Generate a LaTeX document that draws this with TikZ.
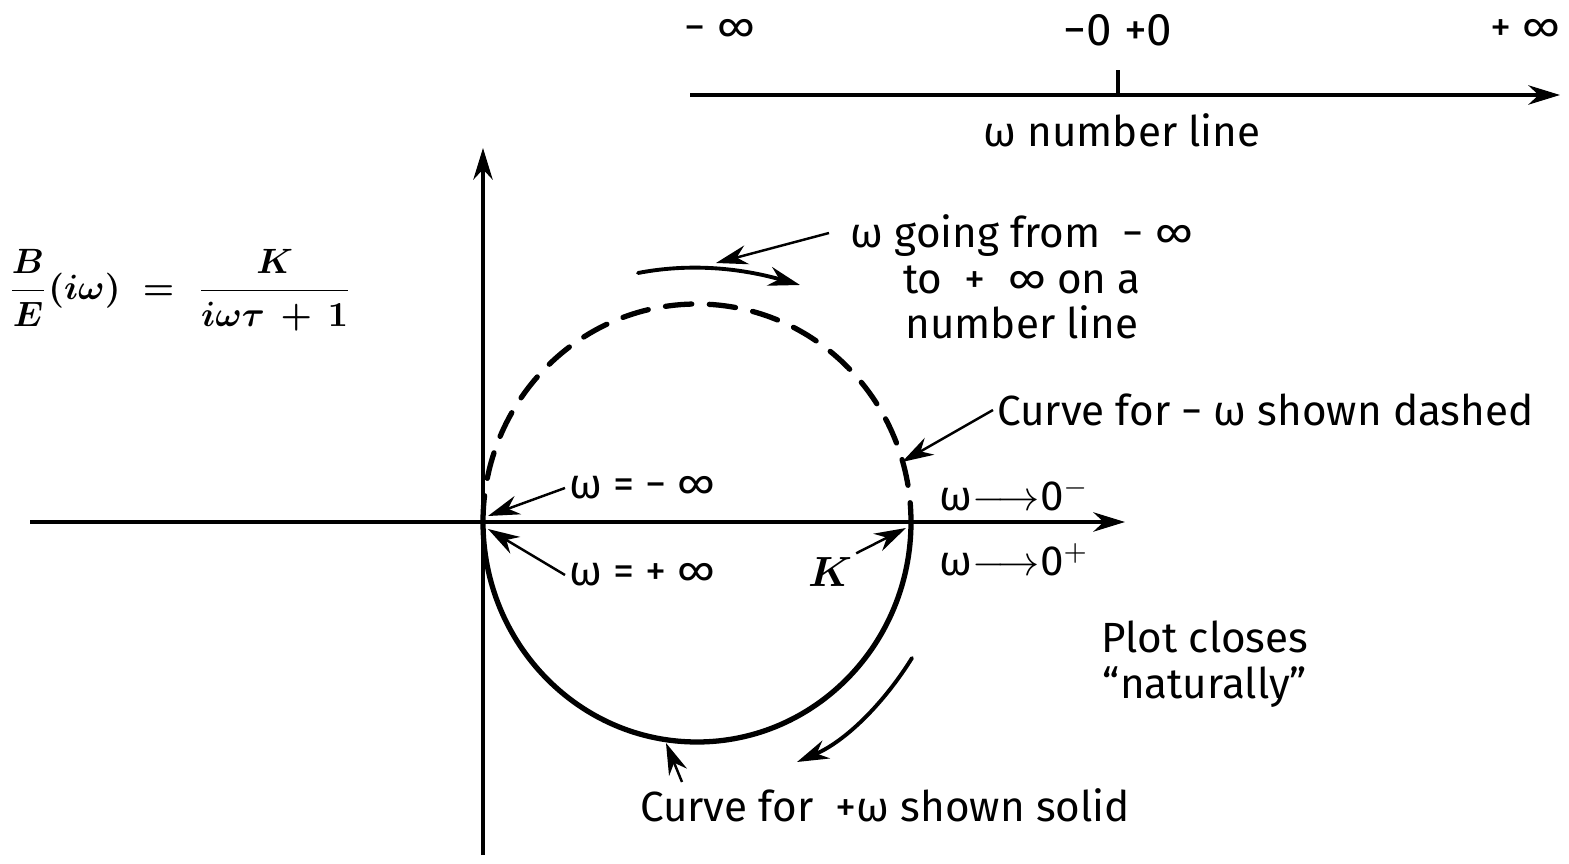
\documentclass[tikz,border=0pt]{standalone}
\usepackage{amsmath}
\usepackage{fontspec}
\setmainfont{Fira Sans}
\usetikzlibrary{arrows.meta,positioning}

\begin{document}
\begin{tikzpicture}[
    x=0.01cm, y=-0.01cm,
    >={Stealth[length=9pt,width=5.5pt]},
    every node/.style={font=\fontsize{12}{13}\selectfont, inner sep=1pt},
    axis/.style={line width=1pt},
    curve/.style={line width=1.5pt, line cap=round},
    pointer/.style={->, line width=0.7pt},
    sweep/.style={->, line width=1.1pt, line cap=round}
]
\useasboundingbox (0,0) rectangle (1569,864);

% Number line
\coordinate (nl_start) at (690,95);
\coordinate (nl_end) at (1560,95);
\coordinate (nl_zero) at (1118,95);
\coordinate (nl_tick) at (1118,70);
\draw[axis,->] (nl_start) -- (nl_end);
\draw[axis] (nl_zero) -- (nl_tick);
\node (minus_inf) at (720,30) {− ∞};
\node (zeros) at (1118,30) {\fontsize{13}{15}\selectfont −0 +0};
\node (plus_inf) at (1525,30) {+ ∞};
\node (nl_label) at (1122,130) {ω number line};

% Axes
\coordinate (O) at (483,522);
\coordinate (K) at (911,522);
\coordinate (x_start) at (30,522);
\coordinate (x_end) at (1125,522);
\coordinate (y_start) at (483,855);
\coordinate (y_end) at (483,148);
\draw[axis,->] (x_start) -- (x_end);
\draw[axis,->] (y_start) -- (y_end);

% Transfer function
\node[font=\fontsize{10}{12}\selectfont] (tf) at (180,290) {$\boldsymbol{\dfrac{B}{E}(i\omega) \;=\; \dfrac{K}{i\omega\tau \,+\, 1}}$};

% Polar plot: dashed for -w, solid for +w
\draw[curve, dash pattern=on 7.5pt off 5pt] (O) arc[start angle=180, end angle=360, x radius=214, y radius=218];
\draw[curve] (K) arc[start angle=0, end angle=180, x radius=214, y radius=220];

% Sweep arrows
\coordinate (top_a) at (638,273);
\coordinate (top_b) at (800,285);
\draw[sweep] (top_a) .. controls (690,263) and (740,268) .. (top_b);
\coordinate (bot_a) at (912,658);
\coordinate (bot_b) at (797,762);
\draw[sweep] (bot_a) .. controls (884,703) and (846,741) .. (bot_b);

% Labels
\node[align=center] (going) at (1022,277) {ω going from \ − ∞\\to \ + \ ∞ on a\\number line};
\node[anchor=west] (dashed) at (993,410) {Curve for − ω shown dashed};
\node[anchor=west] (w_minus) at (935,495) {ω$\longrightarrow$0$^{-}$};
\node[anchor=west] (w_plus) at (935,560) {ω$\longrightarrow$0$^{+}$};
\node[anchor=west] (at_minf) at (565,488) {ω = − ∞};
\node[anchor=west] (at_pinf) at (565,575) {ω = + ∞};
\node (k_label) at (830,572) {\fontsize{13}{15}\selectfont $\boldsymbol{K}$};
\node[align=center] (closes) at (1205,664) {Plot closes\\“naturally”};
\node (solid) at (885,805) {Curve for \ +ω shown solid};

% Pointers
\coordinate (going_tail) at (829,233);
\coordinate (going_head) at (716,263);
\draw[pointer] (going_tail) -- (going_head);
\coordinate (dashed_head) at (902,462);
\draw[pointer] (dashed.west) -- (dashed_head);
\coordinate (minf_head) at (488,516);
\coordinate (pinf_head) at (488,529);
\draw[pointer] (at_minf.west) -- (minf_head);
\draw[pointer] (at_pinf.west) -- (pinf_head);
\coordinate (k_head) at (906,528);
\draw[pointer] (k_label.north east) -- (k_head);
\coordinate (solid_tail) at (682,782);
\coordinate (solid_head) at (666,743);
\draw[pointer] (solid_tail) -- (solid_head);

\end{tikzpicture}
\end{document}
